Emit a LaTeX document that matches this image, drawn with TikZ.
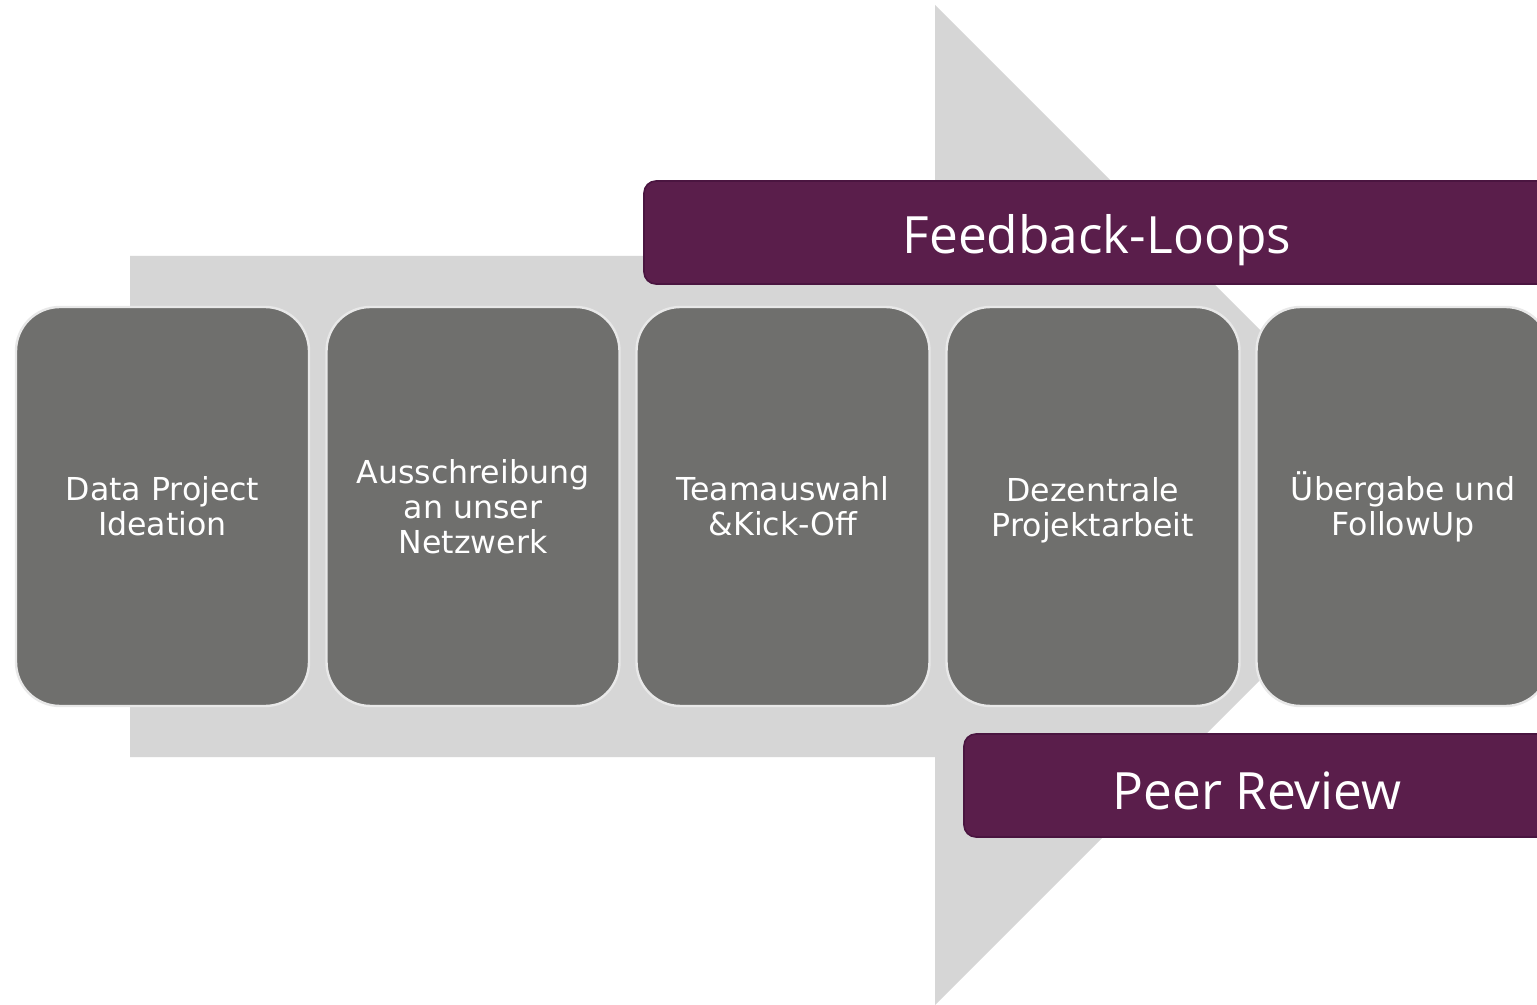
\documentclass[tikz,border=0pt]{standalone}
\usepackage{fontspec}
\setmainfont{DejaVu Sans}
\newfontfamily\barfont{Open Sans}
\definecolor{arrowgray}{HTML}{D6D6D6}
\definecolor{boxgray}{HTML}{6F6F6D}
\definecolor{boxedge}{HTML}{E8E8E8}
\definecolor{plum}{HTML}{5A1E4B}
\definecolor{plumedge}{HTML}{4A1540}
\tikzset{
  stepbox/.style={draw=boxedge, line width=1.2pt, fill=boxgray, rounded corners=22pt,
    minimum width=146.5pt, minimum height=199.5pt, inner sep=0pt, text=white,
    align=center, font=\fontsize{15.8}{17.5}\selectfont},
  barbox/.style={draw=plumedge, line width=0.8pt, fill=plum, rounded corners=6pt,
    inner sep=0pt},
  bartext/.style={text=white, inner sep=0pt, font=\barfont\fontsize{25.7}{28}\selectfont},
}
\begin{document}
\begin{tikzpicture}[x=0.5pt,y=-0.5pt]
\useasboundingbox (0,0) rectangle (1537,1005);
\clip (0,0) rectangle (1537,1005);
\fill[white] (0,0) rectangle (1537,1005);
% big arrow
\fill[arrowgray] (130,256) -- (935,256) -- (935,5) -- (1435,505) -- (935,1005) -- (935,757) -- (130,757) -- cycle;
% steps
\node[stepbox] (s1) at (162.5,506.5) {Data Project\\Ideation};
\node[stepbox] (s2) at (473,506.5) {Ausschreibung\\an unser\\Netzwerk};
\node[stepbox] (s3) at (783,506.5) {Teamauswahl\\\&Kick-Off};
\node[stepbox] (s4) at (1093,506.5) {Dezentrale\\\raisebox{0pt}[\height][0pt]{Projektarbeit}};
\node[stepbox] (s5) at (1403,506.5) {Übergabe und\\FollowUp};
% bars
\node[barbox, minimum width=453pt, minimum height=51.5pt] (fb) at (1097,232.5) {};
\node[bartext] (fbt) at (1097,240) {Feedback-Loops};
\node[barbox, minimum width=293pt, minimum height=51.5pt] (pr) at (1257,785.5) {};
\node[bartext] (prt) at (1257,791) {Peer Review};
\end{tikzpicture}
\end{document}
